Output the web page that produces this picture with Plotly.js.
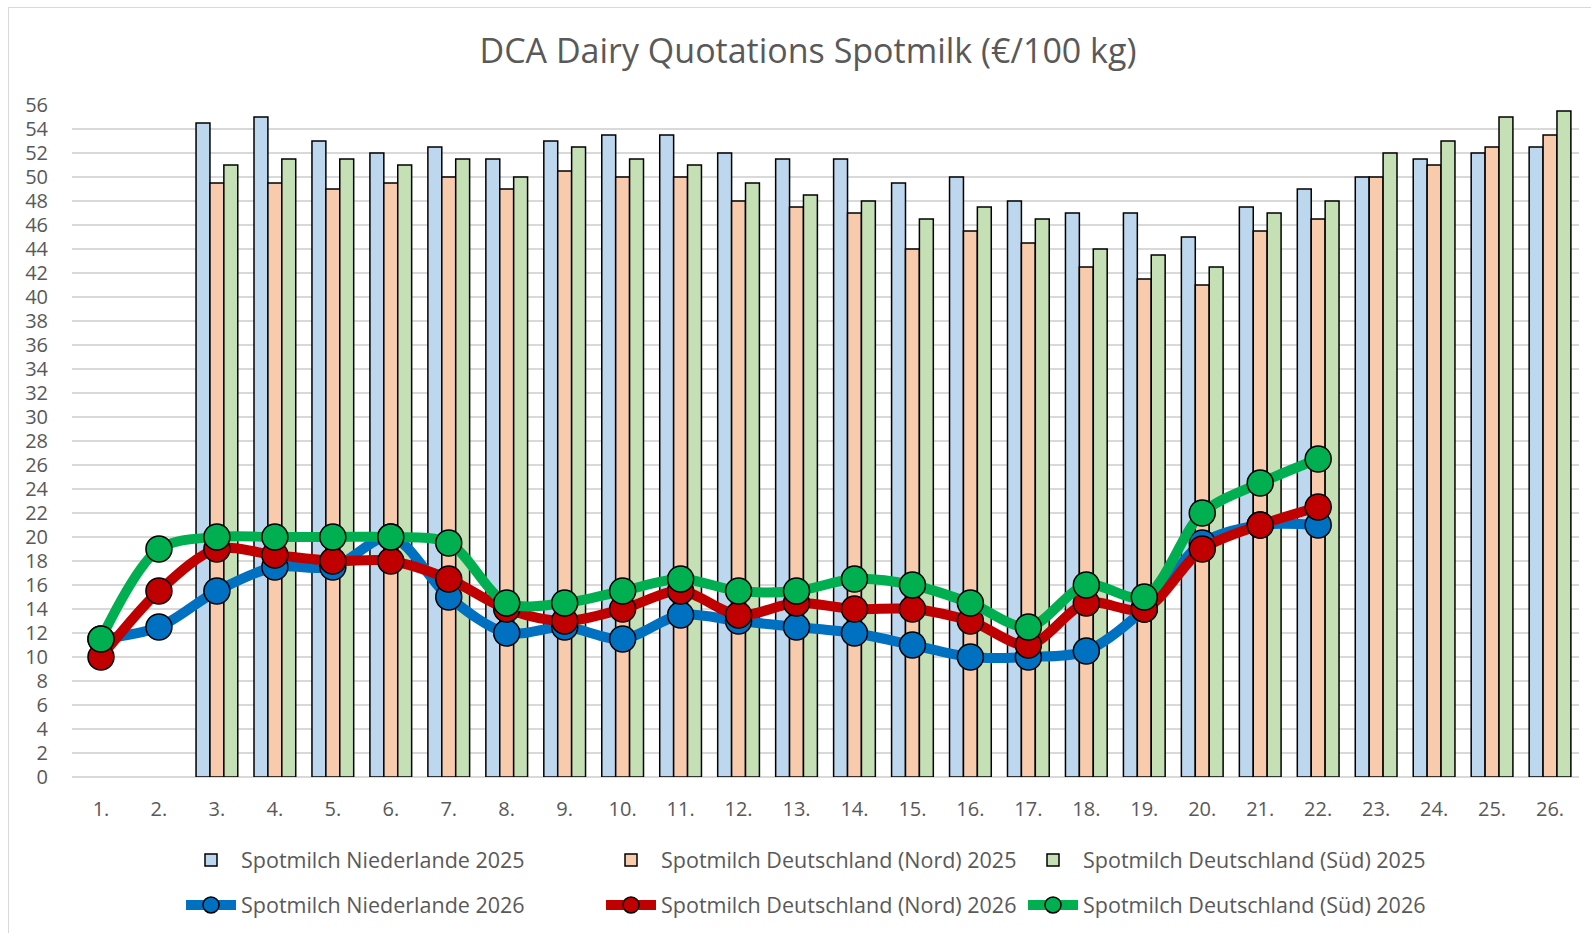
<!DOCTYPE html>
<html><head><meta charset="utf-8">
<script src="https://cdn.plot.ly/plotly-3.0.1.min.js"></script>
<style>
html,body{margin:0;padding:0;background:#fff;}
#chart{position:absolute;left:0;top:0;width:1591px;height:933px;}
#frame{position:absolute;left:8px;top:7px;width:1600px;height:940px;border:1px solid #d9d9d9;pointer-events:none;}
</style></head><body>
<div id="chart"></div><div id="frame"></div>
<script>
const weeks = ['1.','2.','3.','4.','5.','6.','7.','8.','9.','10.','11.','12.','13.','14.','15.','16.','17.','18.','19.','20.','21.','22.','23.','24.','25.','26.'];
const nl2025   = [null,null,54.5,55,53,52,52.5,51.5,53,53.5,53.5,52,51.5,51.5,49.5,50,48,47,47,45,47.5,49,50,51.5,52,52.5];
const nord2025 = [null,null,49.5,49.5,49,49.5,50,49,50.5,50,50,48,47.5,47,44,45.5,44.5,42.5,41.5,41,45.5,46.5,50,51,52.5,53.5];
const sued2025 = [null,null,51,51.5,51.5,51,51.5,50,52.5,51.5,51,49.5,48.5,48,46.5,47.5,46.5,44,43.5,42.5,47,48,52,53,55,55.5];
const weeks2026 = weeks.slice(0,22);
const nl2026   = [11.5,12.5,15.5,17.5,17.5,20,15,12,12.5,11.5,13.5,13,12.5,12,11,10,10,10.5,14,19.5,21,21];
const nord2026 = [10,15.5,19,18.5,18,18,16.5,14,13,14,15.5,13.5,14.5,14,14,13,11,14.5,14,19,21,22.5];
const sued2026 = [11.5,19,20,20,20,20,19.5,14.5,14.5,15.5,16.5,15.5,15.5,16.5,16,14.5,12.5,16,15,22,24.5,26.5];
const seriesNames = ['Spotmilch Niederlande 2025','Spotmilch Deutschland (Nord) 2025','Spotmilch Deutschland (Süd) 2025','Spotmilch Niederlande 2026','Spotmilch Deutschland (Nord) 2026','Spotmilch Deutschland (Süd) 2026'];

const FONT = 'Open Sans, Noto Sans, sans-serif';
const TXT = '#595959';
function bar(y, name, color, lg){
  return {type:'bar', x:weeks, y:y, name:name, legend:lg,
    marker:{color:color, line:{color:'#000', width:1.5}}, hoverinfo:'y'};
}
function line(y, name, color, lg){
  return {type:'scatter', mode:'lines+markers', x:weeks2026, y:y, name:name, legend:lg,
    line:{color:color, width:10, shape:'spline', smoothing:0.9},
    marker:{size:26, color:color, line:{color:'#000', width:1.5}}};
}
const data = [
  bar(nl2025, seriesNames[0], '#BDD7EE', 'legend'),
  bar(nord2025, seriesNames[1], '#F8CBAD', 'legend2'),
  bar(sued2025, seriesNames[2], '#C5E0B4', 'legend3'),
  line(nl2026, seriesNames[3], '#0070C0', 'legend4'),
  line(nord2026, seriesNames[4], '#C00000', 'legend5'),
  line(sued2026, seriesNames[5], '#00B050', 'legend6')
];
function lg(xpx, ypx){
  return {xref:'container', yref:'container', x:xpx/1591, y:1-ypx/933, xanchor:'left', yanchor:'middle',
    orientation:'h', itemwidth:50, bgcolor:'rgba(0,0,0,0)', font:{family:FONT, size:21.5, color:TXT}};
}
const layout = {
  width:1591, height:933,
  margin:{l:72, r:12, t:105, b:156},
  paper_bgcolor:'rgba(0,0,0,0)', plot_bgcolor:'rgba(0,0,0,0)',
  font:{family:FONT, color:TXT},
  title:{text:'DCA Dairy Quotations Spotmilk (€/100 kg)', font:{family:FONT, size:34, color:TXT},
    xref:'container', yref:'container', x:808/1591, y:1-51/933, xanchor:'center', yanchor:'middle'},
  barmode:'group', bargap:0.28, bargroupgap:0,
  xaxis:{type:'category', showgrid:false, zeroline:false, showline:false, ticks:'',
    tickfont:{family:FONT, size:20, color:TXT}, ticklabelstandoff:18, range:[-0.5,25.5]},
  yaxis:{range:[0,56], dtick:2, tick0:0, showgrid:true, gridcolor:'#d9d9d9', gridwidth:1.5,
    zeroline:true, zerolinecolor:'#d9d9d9', zerolinewidth:1.5, showline:false, ticks:'',
    tickfont:{family:FONT, size:20, color:TXT}, ticklabelstandoff:23},
  legend:lg(181,860), legend2:lg(601,860), legend3:lg(1023,860),
  legend4:lg(181,905), legend5:lg(601,905), legend6:lg(1023,905),
  showlegend:true
};
Plotly.newPlot('chart', data, layout, {displayModeBar:false, staticPlot:true});
</script>
</body></html>
